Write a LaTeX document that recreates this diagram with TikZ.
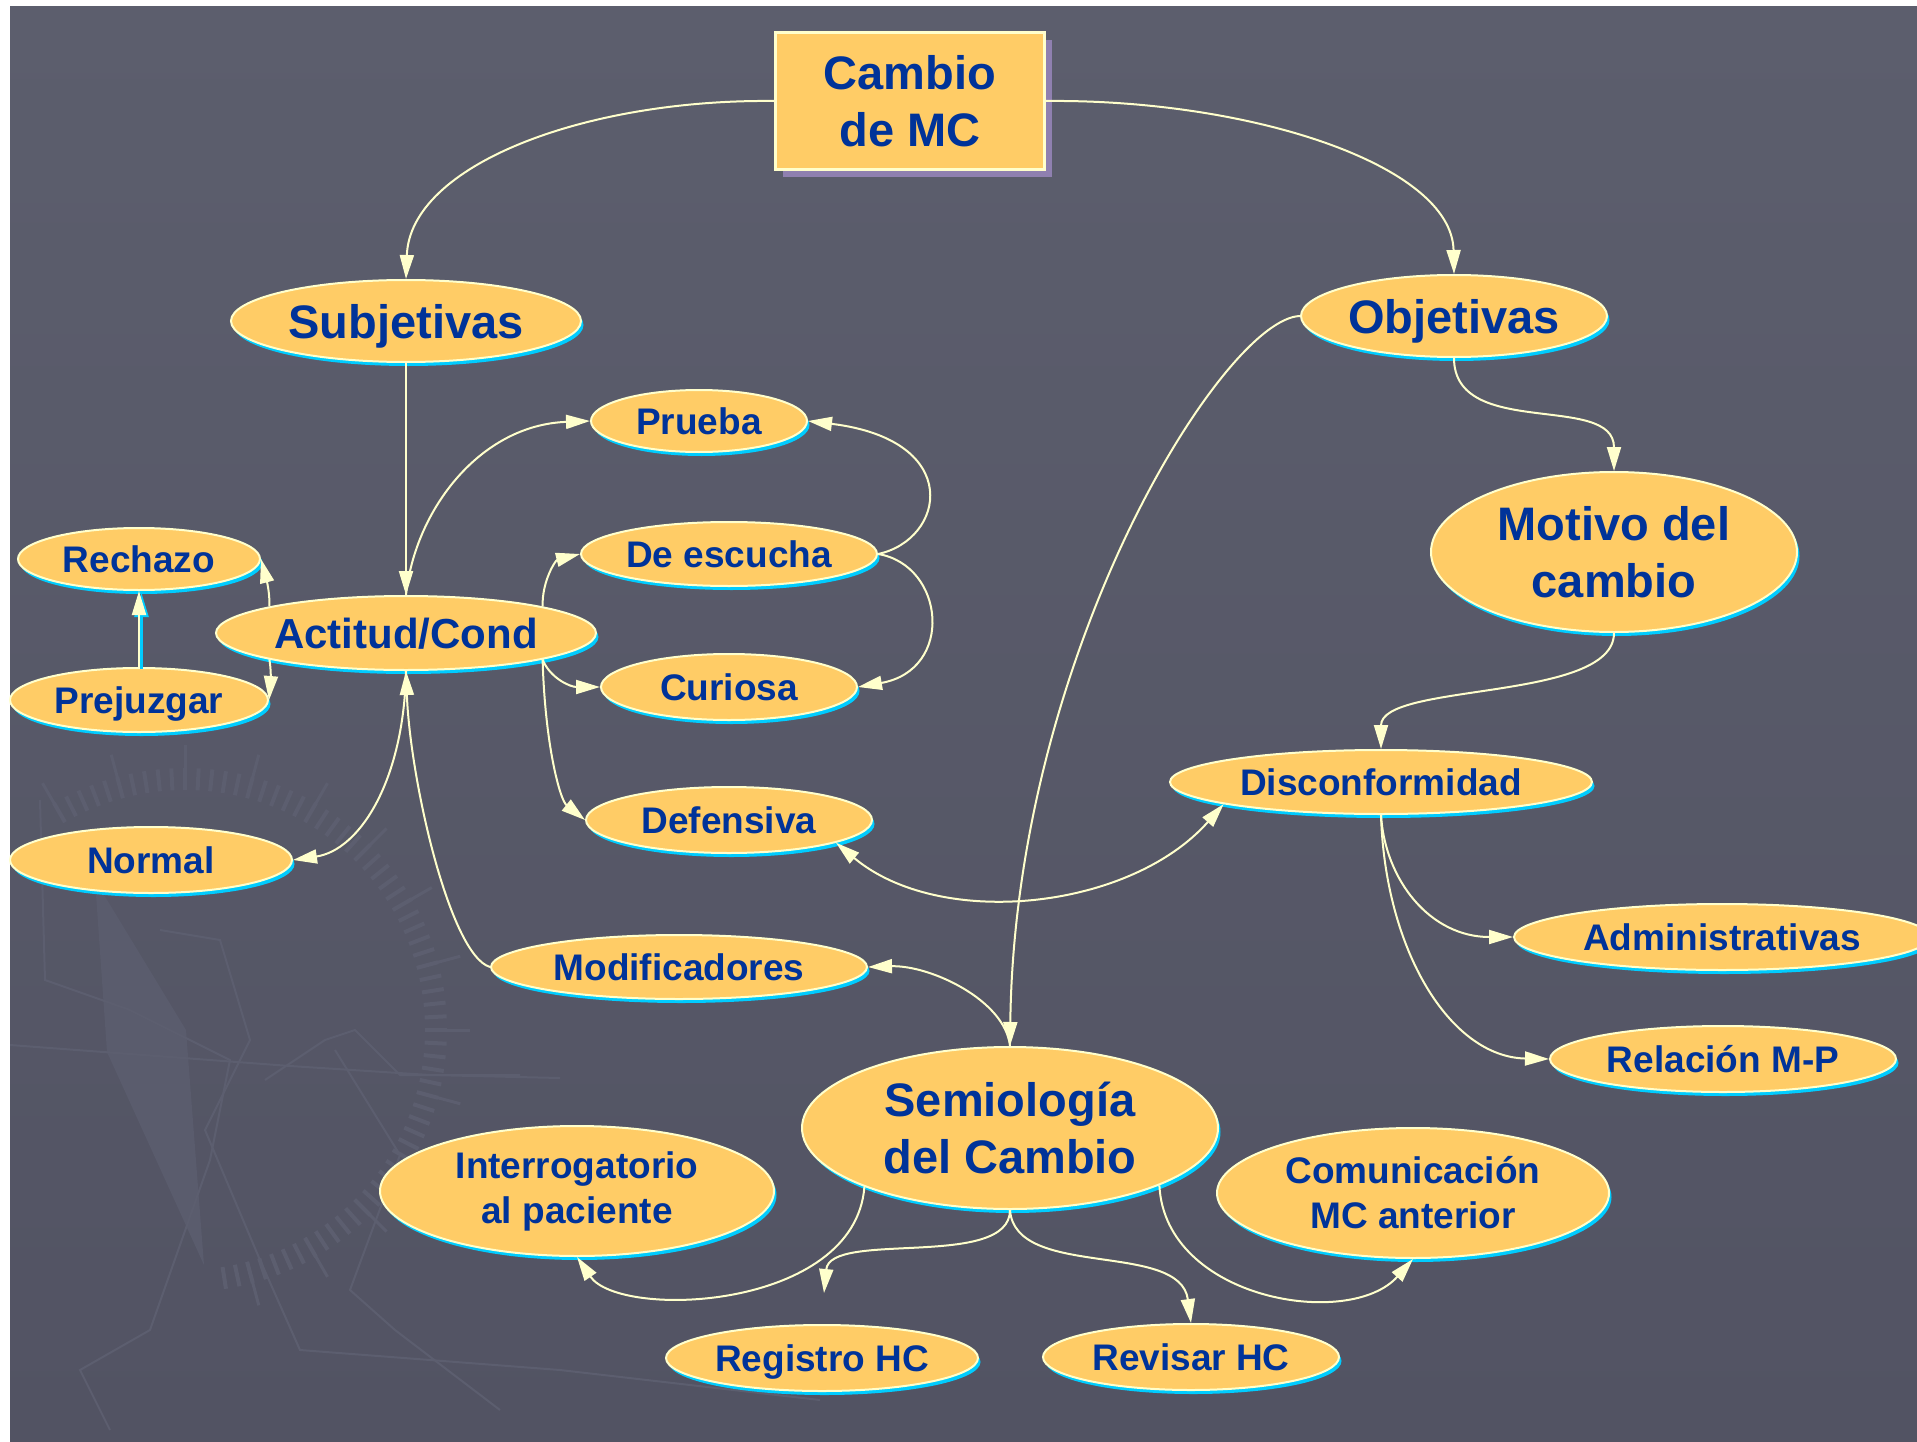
\documentclass[tikz,border=0pt]{standalone}
\usepackage{fontspec}
\setmainfont{Liberation Sans}
\usetikzlibrary{shapes.geometric,shadows,arrows.meta}
\definecolor{bgtop}{HTML}{5C5E6D}
\definecolor{bgbot}{HTML}{525363}
\definecolor{decor}{HTML}{5C5E6F}
\definecolor{needle}{HTML}{5A5C6D}
\definecolor{nodefill}{HTML}{FFCC66}
\definecolor{lineyel}{HTML}{FFFFCC}
\definecolor{shcyan}{HTML}{00CCFF}
\definecolor{txtblue}{HTML}{003399}
\definecolor{shpurple}{HTML}{8F80B0}
\tikzset{
  ell/.style={ellipse, fill=nodefill, draw=lineyel, line width=2pt, inner sep=0pt,
    text=txtblue,
    general shadow={fill=shcyan, shadow xshift=2.5pt, shadow yshift=-4pt}},
  multi/.style={align=center},
  bigf/.style={font=\bfseries\fontsize{47}{57}\selectfont},
  midf/.style={font=\bfseries\fontsize{42}{50}\selectfont},
  smallf/.style={font=\bfseries\fontsize{37}{45}\selectfont},
  bigone/.style={bigf, text height=34pt, text depth=0pt},
  midone/.style={midf, text height=30.5pt, text depth=0pt},
  smallone/.style={smallf, text height=27pt, text depth=0pt},
  conn/.style={draw=lineyel, line width=2pt, -{Triangle[length=24pt,width=14pt,fill=lineyel]}},
  conn2/.style={draw=lineyel, line width=2pt, {Triangle[length=24pt,width=14pt,fill=lineyel]}-{Triangle[length=24pt,width=14pt,fill=lineyel]}},
  deco/.style={draw=decor, line width=3pt},
}
\begin{document}
\begin{tikzpicture}[x=1pt,y=-1pt]
\useasboundingbox (0,0) rectangle (1917,1442);
\fill[white] (0,0) rectangle (1917,1442);
\shade[top color=bgtop, bottom color=bgbot] (10,7) rectangle (1917,1442);

% faint background decoration: compass
\begin{scope}
\clip (10,7) rectangle (1917,1442);
\foreach \a in {-120,-117,...,81} {
  \draw[deco, line width=4pt] (185,1030) ++(\a:240) -- ++(\a:22);
}
\foreach \a in {-120,-105,...,80} {
  \draw[deco, line width=3pt] (185,1030) ++(\a:240) -- ++(\a:45);
}
\fill[needle] (95,880) -- (186,1030) -- (204,1265) -- (107,1052) -- cycle;
\draw[deco, line width=2pt] (10,1045) -- (290,1066) -- (430,1075) -- (560,1078);
\draw[deco, line width=2pt] (40,800) -- (45,980) -- (130,1010) -- (230,1060) -- (210,1160) -- (150,1330) -- (80,1370) -- (110,1430);
\draw[deco, line width=2pt] (160,930) -- (220,940) -- (250,1040) -- (205,1130) -- (260,1260) -- (300,1350) -- (560,1370) -- (820,1400);
\draw[deco, line width=2pt] (265,1080) -- (325,1040) -- (355,1030) -- (400,1075) -- (520,1075);
\draw[deco, line width=2pt] (335,1050) -- (400,1155) -- (350,1290) -- (395,1330) -- (500,1410);
\end{scope}

% nodes
\node[rectangle, fill=nodefill, draw=lineyel, line width=3pt, minimum width=269pt, minimum height=137pt,
  text=txtblue, align=center, bigf,
  general shadow={fill=shpurple, shadow xshift=7pt, shadow yshift=-8pt}] (cam) at (910,101) {Cambio\\de MC};

\node[ell, bigone, minimum width=350pt, minimum height=82pt] (sub) at (406,321) {Subjetivas};
\node[ell, bigone, minimum width=306pt, minimum height=82pt] (obj) at (1454,316) {Objetivas};
\node[ell, smallone, minimum width=216pt, minimum height=62pt] (pru) at (699,421) {Prueba};
\node[ell, smallone, minimum width=242pt, minimum height=62pt] (rech) at (139,559) {Rechazo};
\node[ell, smallone, minimum width=296pt, minimum height=64pt] (esc) at (729,554) {De escucha};
\node[ell, midone, minimum width=380pt, minimum height=74pt] (act) at (406,633) {Actitud/Cond};
\node[ell, smallone, minimum width=256pt, minimum height=66pt] (cur) at (729,687) {Curiosa};
\node[ell, smallone, minimum width=258pt, minimum height=64pt] (prej) at (139,700) {Prejuzgar};
\node[ell, bigf, multi, minimum width=366pt, minimum height=160pt] (mot) at (1614,552) {Motivo del\\cambio};
\node[ell, smallone, minimum width=422pt, minimum height=64pt] (disc) at (1381,782) {Disconformidad};
\node[ell, smallone, minimum width=286pt, minimum height=66pt] (def) at (729,820) {Defensiva};
\node[ell, smallone, minimum width=282pt, minimum height=66pt] (norm) at (151,860) {Normal};
\node[ell, smallone, minimum width=416pt, minimum height=66pt] (adm) at (1722,937) {Administrativas};
\node[ell, smallone, minimum width=346pt, minimum height=66pt] (rel) at (1723,1059) {Relación M-P};
\node[ell, smallone, minimum width=376pt, minimum height=64pt] (mod) at (679,967) {Modificadores};
\node[ell, bigf, multi, minimum width=416pt, minimum height=162pt] (sem) at (1010,1128) {Semiología\\del Cambio};
\node[ell, smallf, multi, minimum width=394pt, minimum height=130pt] (intr) at (577,1191) {Interrogatorio\\al paciente};
\node[ell, smallf, multi, minimum width=392pt, minimum height=130pt] (com) at (1413,1193) {Comunicación\\MC anterior};
\node[ell, smallone, minimum width=312pt, minimum height=66pt] (reg) at (822,1358) {Registro HC};
\node[ell, smallone, minimum width=296pt, minimum height=66pt] (rev) at (1191,1357) {Revisar HC};

\coordinate (regtip) at (824,1293);

% connectors
\draw[conn] (cam.west) .. controls (585,99) and (410,165) .. (sub.north);
\draw[conn] (cam.east) .. controls (1250,99) and (1452,165) .. (obj.north);
\draw[conn] (sub.south) -- (act.north);
\draw[conn] (obj.west) .. controls (1225,318) and (1015,650) .. (sem.north);
\draw[conn] (obj.south) .. controls (1454,440) and (1614,392) .. (mot.north);
\draw[conn] (mot.south) .. controls (1614,702) and (1381,682) .. (disc.north);
\draw[conn] (disc.south) .. controls (1385,880) and (1430,937) .. (adm.west);
\draw[conn] (disc.south) .. controls (1385,950) and (1450,1057) .. (rel.west);
\draw[conn2] (def.-12) .. controls (940,930) and (1130,910) .. (disc.-172);
\draw[conn] (act.north) .. controls (415,510) and (480,425) .. (pru.west);
\draw[conn] (esc.east) .. controls (945,540) and (965,440) .. (pru.east);
\draw[conn] (esc.east) .. controls (945,565) and (955,670) .. (cur.east);
\draw[conn] (act.11) .. controls (542,580) and (556,560) .. (esc.west);
\draw[conn] (act.-11) .. controls (550,678) and (570,687) .. (cur.west);
\draw[conn] (act.-11) .. controls (545,745) and (560,800) .. (def.west);
\draw[conn] (act.169) .. controls (270,592) and (266,578) .. (rech.east);
\draw[conn] (act.-169) .. controls (272,675) and (270,688) .. (prej.east);
\draw[draw=shcyan, line width=2.5pt, -{Triangle[length=24pt,width=14pt,fill=shcyan]}, transform canvas={shift={(2.5pt,-2pt)}}] (prej.north) -- (rech.south);
\draw[conn] (prej.north) -- (rech.south);
\draw[conn] (act.south) .. controls (404,780) and (360,850) .. (norm.east);
\draw[conn] (mod.west) .. controls (450,955) and (410,780) .. (act.south);
\draw[conn] (sem.north) .. controls (1005,1000) and (930,965) .. (mod.east);
\draw[conn] (sem.-158) .. controls (855,1310) and (620,1320) .. (intr.south);
\draw[conn] (sem.south) .. controls (1010,1270) and (830,1230) .. (regtip);
\draw[conn] (sem.south) .. controls (1015,1280) and (1180,1240) .. (rev.north);
\draw[conn] (sem.-21) .. controls (1165,1300) and (1350,1330) .. (com.south);
\end{tikzpicture}
\end{document}
